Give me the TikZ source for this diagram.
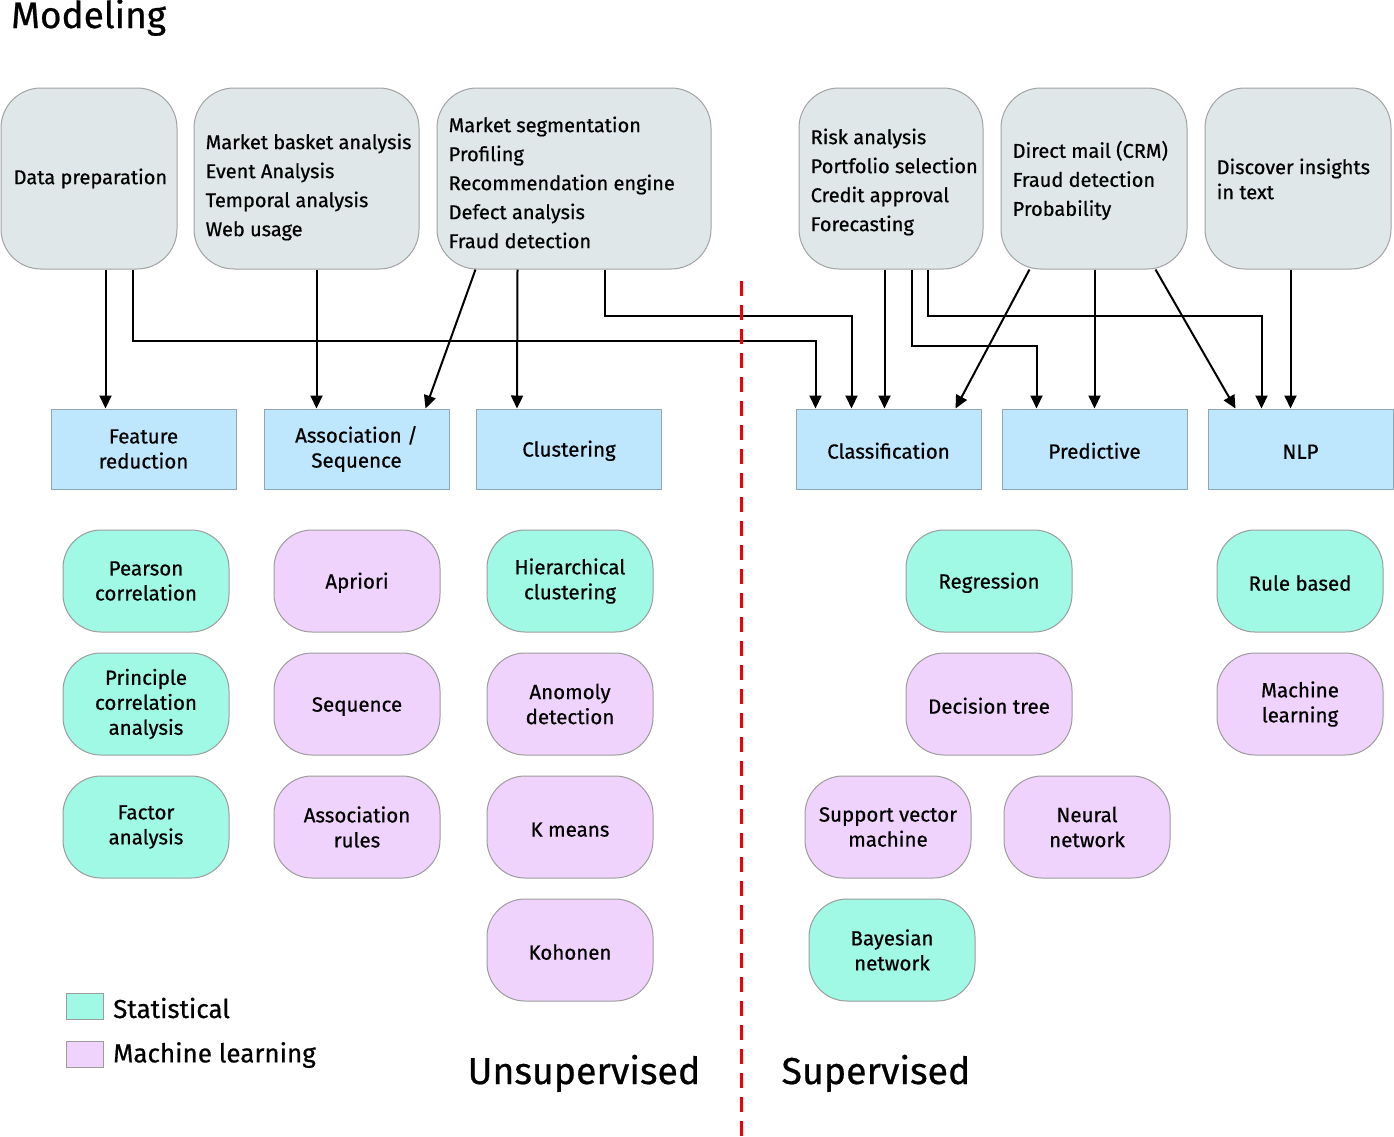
\documentclass[tikz,border=0pt]{standalone}
\usepackage{fontspec}
\setmainfont{Fira Sans}[FakeBold=0.6]
\usetikzlibrary{arrows.meta,calc}
\definecolor{topfill}{HTML}{DFE7E8}
\definecolor{topdraw}{HTML}{A3A3A3}
\definecolor{catfill}{HTML}{BEE6FD}
\definecolor{catdraw}{HTML}{8FA6B6}
\definecolor{statfill}{HTML}{A0F9E5}
\definecolor{mlfill}{HTML}{F0D3FD}
\definecolor{algodraw}{HTML}{9C9C9C}
\definecolor{divred}{HTML}{F00000}
\begin{document}
\begin{tikzpicture}[x=1pt,y=-1pt,
  every node/.style={font=\fontsize{20.5}{25}\selectfont},
  topbox/.style={draw=topdraw,fill=topfill,line width=1pt,rounded corners=40pt,
    minimum height=181pt,inner sep=0pt},
  toptext/.style={anchor=west,inner sep=0pt,align=left,font=\fontsize{20}{29}\selectfont},
  lower/.style={execute at begin node={\rule{0pt}{19.5pt}}},
  catbox/.style={draw=catdraw,fill=catfill,line width=1pt,minimum width=185pt,
    minimum height=80pt,align=center,lower},
  algo/.style={draw=algodraw,line width=1pt,rounded corners=38pt,minimum width=166pt,
    minimum height=102pt,align=center,lower},
  stat/.style={algo,fill=statfill},
  ml/.style={algo,fill=mlfill},
  arr/.style={draw=black,line width=2pt,-{Triangle[width=12pt,length=13pt]}},
  legbox/.style={draw=algodraw,line width=1pt,minimum width=37pt,minimum height=26pt,inner sep=0pt},
  legtext/.style={anchor=west,inner sep=0pt,font=\fontsize{26}{30}\selectfont},
  big/.style={anchor=base,inner sep=0pt,font=\fontsize{37.5}{42}\selectfont},
  ]
\useasboundingbox (0,0) rectangle (1394,1136);
\fill[white] (0,0) rectangle (1394,1136);

% title
\node[anchor=base west,inner sep=0pt,font=\fontsize{37}{42}\selectfont] (title) at (11,28) {Modeling};

% top boxes
\node[topbox,minimum width=176pt] (dp) at (89,178.5) {};
\node[topbox,minimum width=225pt] (mb) at (306.5,178.5) {};
\node[topbox,minimum width=274pt] (ms) at (574,178.5) {};
\node[topbox,minimum width=184pt] (ra) at (891,178.5) {};
\node[topbox,minimum width=186pt] (dm) at (1094,178.5) {};
\node[topbox,minimum width=186pt] (di) at (1298,178.5) {};
\node[toptext] (dpt) at ([xshift=13pt]dp.west |- 0,178.5) {Data preparation};
\node[toptext] (mbt) at ([xshift=12pt]mb.west |- 0,187) {Market basket analysis\\Event Analysis\\Temporal analysis\\Web usage};
\node[toptext] (mst) at ([xshift=12pt]ms.west |- 0,182.5) {Market segmentation\\Profiling\\Recommendation engine\\Defect analysis\\Fraud detection};
\node[toptext] (rat) at ([xshift=12pt]ra.west |- 0,182) {Risk analysis\\Portfolio selection\\Credit approval\\Forecasting};
\node[toptext] (dmt) at ([xshift=12pt]dm.west |- 0,180.5) {Direct mail (CRM)\\Fraud detection\\Probability};
\node[toptext,font=\fontsize{20}{25}\selectfont] (dit) at ([xshift=12pt]di.west |- 0,179) {Discover insights\\in text};

% category boxes
\node[catbox] (fr) at (143.5,449) {Feature\\reduction};
\node[catbox] (as) at (356.5,449) {Association /\\Sequence};
\node[catbox] (cl) at (569,449) {Clustering};
\node[catbox] (cf) at (888.5,449) {Classification};
\node[catbox] (pr) at (1094.5,449) {Predictive};
\node[catbox] (nlp) at (1300.5,449) {NLP};

% algorithms
\node[stat] (pearson) at (146,581) {Pearson\\correlation};
\node[stat] (pca) at (146,704) {Principle\\correlation\\analysis};
\node[stat] (factor) at (146,827) {Factor\\analysis};
\node[ml] (apriori) at (357,581) {Apriori};
\node[ml] (seq) at (357,704) {Sequence};
\node[ml] (assoc) at (357,827) {Association\\rules};
\node[stat] (hier) at (570,581) {Hierarchical\\clustering};
\node[ml] (anom) at (570,704) {Anomoly\\detection};
\node[ml] (kmeans) at (570,827) {K means};
\node[ml] (kohonen) at (570,950) {Kohonen};
\node[stat] (regr) at (989,581) {Regression};
\node[ml] (dtree) at (989,704) {Decision tree};
\node[ml] (svm) at (888,827) {Support vector\\machine};
\node[ml] (nn) at (1087,827) {Neural\\network};
\node[stat] (bayes) at (892,950) {Bayesian\\network};
\node[stat] (rule) at (1300,581) {Rule based};
\node[ml] (mlearn) at (1300,704) {Machine\\learning};

% arrows
\draw[arr] ([xshift=105pt]dp.south west) -- ([xshift=55pt]fr.north west);
\draw[arr] ([xshift=132pt]dp.south west) -- ++(0,71) -| ([xshift=20pt]cf.north west);
\draw[arr] ([xshift=123pt]mb.south west) -- ([xshift=53pt]as.north west);
\draw[arr] ([xshift=39pt]ms.south west) -- ([xshift=162pt]as.north west);
\draw[arr] ([xshift=81pt]ms.south west) -- ([xshift=41pt]cl.north west);
\draw[arr] ([xshift=168pt]ms.south west) -- ++(0,46) -| ([xshift=56pt]cf.north west);
\draw[arr] ([xshift=86pt]ra.south west) -- ([xshift=89pt]cf.north west);
\draw[arr] ([xshift=113pt]ra.south west) -- ++(0,76) -| ([xshift=35pt]pr.north west);
\draw[arr] ([xshift=129pt]ra.south west) -- ++(0,46) -| ([xshift=54pt]nlp.north west);
\draw[arr] ([xshift=29pt]dm.south west) -- ([xshift=160pt]cf.north west);
\draw[arr] ([xshift=94pt]dm.south west) -- ([xshift=93pt]pr.north west);
\draw[arr] ([xshift=155pt]dm.south west) -- ([xshift=28pt]nlp.north west);
\draw[arr] ([xshift=86pt]di.south west) -- ([xshift=83pt]nlp.north west);

% divider
\coordinate (divtop) at (741,281);
\coordinate (divbot) at (741,1136);
\draw[divred,line width=3pt,dash pattern=on 15pt off 9pt] (divtop) -- (divbot);

% section labels
\node[big] (unsup) at (584,1084) {Unsupervised};
\node[big] (sup) at (876,1084) {Supervised};

% legend
\node[legbox,fill=statfill] (legstat) at (84.5,1006) {};
\node[legtext] (legstatt) at (113,1008) {Statistical};
\node[legbox,fill=mlfill] (legml) at (84.5,1054) {};
\node[legtext] (legmlt) at (113,1055) {Machine learning};
\end{tikzpicture}
\end{document}
